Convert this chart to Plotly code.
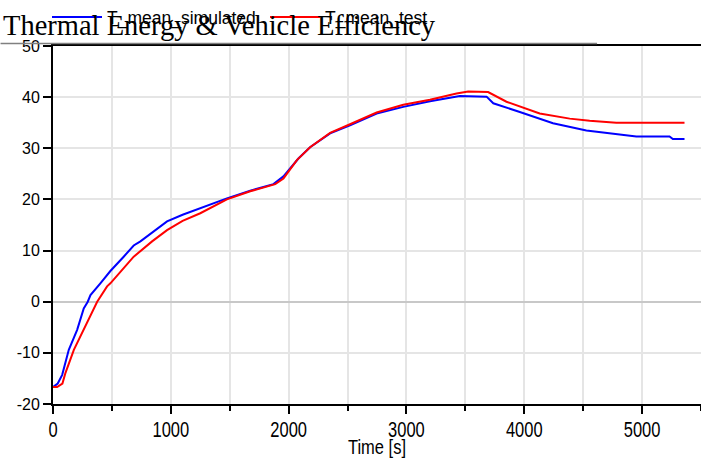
import plotly.graph_objects as go

# Data
sim_time = [0, 40, 78, 134, 205, 261, 295, 318, 402, 487, 600, 685, 742, 850, 968,
            1100, 1250, 1476, 1674, 1871, 1956, 2083, 2182, 2352, 2521, 2747, 2973,
            3114, 3200, 3369, 3453, 3680, 3737, 3962, 4216, 4244, 4527, 4809, 4951,
            5233, 5261, 5360]
sim_temp = [-16.7, -16.0, -14.3, -9.4, -5.5, -1.3, 0.0, 1.3, 3.6, 6.0, 8.8, 11.0, 11.8,
            13.7, 15.7, 17.0, 18.3, 20.2, 21.7, 23.0, 24.5, 28.0, 30.2, 32.9, 34.5, 36.8,
            38.1, 38.8, 39.2, 39.9, 40.2, 40.1, 38.8, 37.1, 35.2, 34.9, 33.5, 32.7, 32.3,
            32.3, 31.8, 31.8]

test_time = [0, 35, 80, 106, 177, 275, 330, 375, 459, 487, 685, 841, 968, 1100, 1250,
             1476, 1674, 1886, 1956, 2070, 2182, 2352, 2521, 2747, 2973, 3114, 3199,
             3425, 3524, 3693, 3749, 3849, 4131, 4216, 4386, 4555, 4781, 5360]
test_temp = [-16.7, -16.7, -16.0, -13.9, -9.4, -4.8, -2.0, 0.0, 3.0, 3.6, 8.8, 11.8, 14.0,
             15.8, 17.3, 20.0, 21.6, 23.0, 24.1, 27.7, 30.2, 33.0, 34.7, 37.0, 38.5, 39.1,
             39.5, 40.7, 41.1, 41.0, 40.3, 39.1, 36.8, 36.5, 35.8, 35.4, 35.0, 35.0]

x_ticks = [0, 1000, 2000, 3000, 4000, 5000]
y_ticks = [-20, -10, 0, 10, 20, 30, 40, 50]

fig = go.Figure()
fig.add_trace(go.Scatter(x=sim_time, y=sim_temp, mode="lines", name="T_mean_simulated",
                         line=dict(color="#0000ff", width=2)))
fig.add_trace(go.Scatter(x=test_time, y=test_temp, mode="lines", name="T_mean_test",
                         line=dict(color="#ff0000", width=2)))

L, R, T, B = 52.5, 0, 45.5, 56.5
W, H = 701, 461
pw = W - L - R
ph = H - T - B

fig.update_layout(
    width=W, height=H,
    margin=dict(l=L, r=R, t=T, b=B, pad=0, autoexpand=False),
    paper_bgcolor="white", plot_bgcolor="white",
    font=dict(family="Liberation Sans, Arial, sans-serif", size=16, color="black"),
    title=dict(text="Thermal Energy & Vehicle Efficiency",
               font=dict(family="Liberation Serif, Times New Roman, serif", size=28.5, color="black"),
               xref="container", x=3 / W, xanchor="left",
               yref="container", y=1 - 25 / H, yanchor="middle", pad=dict(t=0, b=0, l=0, r=0)),
    showlegend=True,
    legend=dict(orientation="h", xref="container", yref="container",
                x=47 / W, xanchor="left", y=1 - 17 / H,
                yanchor="middle", bgcolor="rgba(0,0,0,0)", font=dict(size=17.5),
                itemwidth=50, entrywidth=153, tracegroupgap=0),
    xaxis=dict(range=[0, 5500], tickvals=x_ticks, ticktext=[str(v) for v in x_ticks],
               automargin=False,
               showgrid=True, gridcolor="#e5e5e5", gridwidth=1.5,
               showline=True, linecolor="black", linewidth=2, mirror=True,
               ticks="outside", ticklen=8, tickwidth=1.5, tickcolor="black",
               tickfont=dict(size=16.5),
               minor=dict(dtick=500, tick0=0, showgrid=True, gridcolor="#e5e5e5", gridwidth=1.5,
                          ticks="outside", ticklen=5, tickwidth=1.5, tickcolor="black"),
               zeroline=False,
               title=dict(text="Time [s]", standoff=5, font=dict(size=16.5))),
    yaxis=dict(range=[-20, 50], tickvals=y_ticks, ticktext=[str(v) for v in y_ticks],
               automargin=False,
               showgrid=True, gridcolor="#e5e5e5", gridwidth=1.5,
               showline=True, linecolor="black", linewidth=2, mirror=False,
               ticks="outside", ticklen=8, tickwidth=1.5, tickcolor="black",
               zeroline=True, zerolinecolor="#c8c8c8", zerolinewidth=2),
    shapes=[dict(type="line", xref="paper", yref="paper",
                 x0=-L / pw, x1=(597 - L) / pw,
                 y0=1 + 2.5 / ph, y1=1 + 2.5 / ph,
                 line=dict(color="#808080", width=1.3))],
)

post_js = """
document.body.style.margin = '0';
(function () {
  var gd = document.getElementById('{plot_id}');
  function stretch(sel, s, dy) {
    gd.querySelectorAll(sel).forEach(function (g) {
      var b = g.getBBox();
      var cy = b.y + b.height / 2;
      g.setAttribute('transform', 'translate(0,' + (cy + dy) + ') scale(1,' + s + ') translate(0,' + (-cy) + ')');
    });
  }
  stretch('g.xtick', 1.35, 1.5);
  stretch('g.g-xtitle', 1.2, 0);
})();
"""

fig.write_html("out.html", post_script=post_js, config={"displayModeBar": False})
